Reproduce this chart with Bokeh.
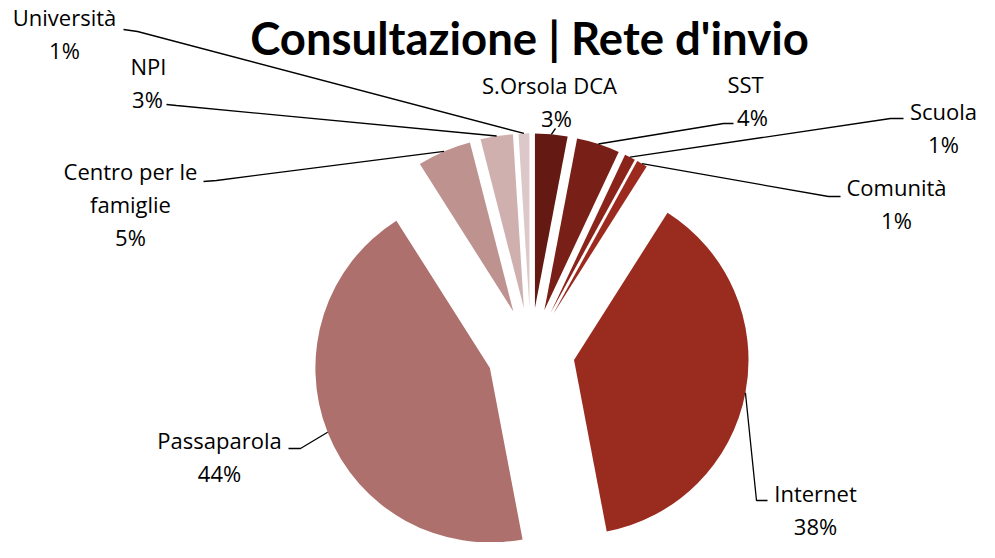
import math
from bokeh.plotting import figure
from bokeh.models import ColumnDataSource, Range1d
from bokeh.core.properties import value
from bokeh.embed import file_html
from bokeh.resources import INLINE

# ---- data ----
categories = ["S.Orsola DCA", "SST", "Scuola", "Comunità", "Internet",
              "Passaparola", "Centro per le famiglie", "NPI", "Università"]
percent = [3, 4, 1, 1, 38, 44, 5, 3, 1]
colors = ["#641A12", "#781F17", "#8A231A", "#9C2A1E", "#9A2B1F",
          "#AD706C", "#BE928F", "#CFB0AF", "#DCC8C8"]
title_text = "Consultazione | Rete d'invio"

# ---- layout (pixel coordinates, origin top-left) ----
W, H = 979, 542
CX, CY = 530.3, 351.3      # pie centre
R = 174.5                  # radius
EXPLODE = 44.0             # explosion offset

# name lines, x of each line, first text y, x of percent, leader elbow & end
label_layout = {
    "S.Orsola DCA": (["S.Orsola DCA"], [549], 84, 556, [(555, 128)]),
    "SST": (["SST"], [745], 83, 752, [(723, 123), (733, 123)]),
    "Scuola": (["Scuola"], [943], 110, 943, [(890, 118), (903, 118)]),
    "Comunità": (["Comunità"], [896], 186, 896, [(828, 196), (840, 196)]),
    "Internet": (["Internet"], [815], 492, 815, [(756, 500), (767, 500)]),
    "Passaparola": (["Passaparola"], [219], 439, 219, [(300, 448), (288, 448)]),
    "Centro per le famiglie": (["Centro per le", "famiglie"], [130, 130], 170, 130,
                               [(216, 180), (203, 181)]),
    "NPI": (["NPI"], [148], 65, 147, [(176, 105), (166, 104)]),
    "Università": (["Università"], [64], 16, 64, [(137, 31), (123, 29)]),
}
LINE_STEP = 33

total = float(sum(percent))
xs_w, ys_w, starts, ends = [], [], [], []
lead_xs, lead_ys = [], []
tx, ty, tt = [], [], []
cum = 0.0
for cat, v in zip(categories, percent):
    a = cum / total * 360.0
    b = (cum + v) / total * 360.0
    cum += v
    m = math.radians((a + b) / 2.0)
    ax = CX + EXPLODE * math.sin(m)
    ay = -CY + EXPLODE * math.cos(m)
    xs_w.append(ax)
    ys_w.append(ay)
    starts.append(math.radians(90 - b))
    ends.append(math.radians(90 - a))
    px = ax + R * math.sin(m)
    py = ay + R * math.cos(m)
    lines, lx, base0, pctx, leader = label_layout[cat]
    lead_xs.append([px] + [q[0] for q in leader])
    lead_ys.append([py] + [-q[1] for q in leader])
    for i, (ln, x) in enumerate(zip(lines, lx)):
        tx.append(x)
        ty.append(-(base0 + i * LINE_STEP))
        tt.append(ln)
    tx.append(pctx)
    ty.append(-(base0 + len(lines) * LINE_STEP))
    tt.append(f"{v}%")

p = figure(width=W, height=H, output_backend="svg", toolbar_location=None,
           x_range=Range1d(0, W), y_range=Range1d(-H, 0), min_border=0)
p.axis.visible = False
p.grid.visible = False
p.outline_line_color = None
p.background_fill_color = "white"
p.border_fill_color = "white"

wsrc = ColumnDataSource(dict(x=xs_w, y=ys_w, s=starts, e=ends, c=colors, cat=categories))
p.wedge(x="x", y="y", radius=R, start_angle="s", end_angle="e",
        fill_color="c", line_color=None, source=wsrc)

p.multi_line(xs=lead_xs, ys=lead_ys, line_color="black", line_width=1.3)

tsrc = ColumnDataSource(dict(x=tx, y=ty, t=tt))
p.text(x="x", y="y", text="t", source=tsrc, text_align="center",
       text_baseline="alphabetic", text_font=value("Open Sans"),
       text_font_size="22px", text_color="black")

p.text(x=[529], y=[-37], text=[title_text], text_align="center",
       text_baseline="alphabetic", text_font=value("Lato"),
       text_font_style="bold", text_font_size="45.5px", text_color="black")

open("out.html", "w").write(file_html(p, INLINE))
